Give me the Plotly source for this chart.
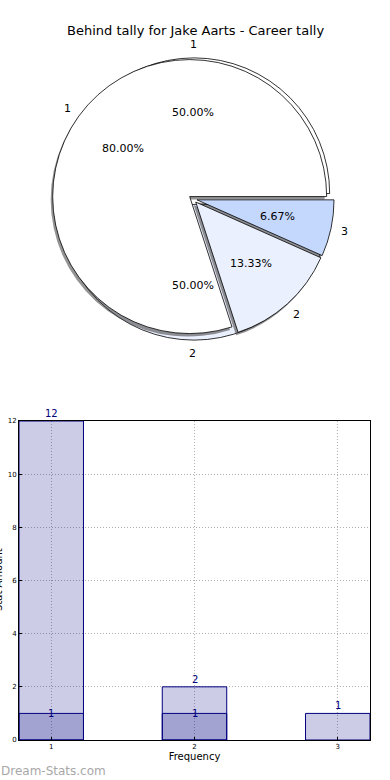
import math
import plotly.graph_objects as go

# ---------------- data ----------------
title_text = "Behind tally for Jake Aarts - Career tally"
career_labels = ["1", "2", "3"]
career_values = [12, 2, 1]
behind_labels = ["1", "2"]
behind_values = [1, 1]

freq_categories = [1, 2, 3]
career_counts = [12, 2, 1]
behind_counts = [1, 1, None]

x_title = "Frequency"
y_title = "Stat Amount"
y_ticks = [0, 2, 4, 6, 8, 10, 12]
watermark = "Dream-Stats.com"

# ---------------- layout constants ----------------
W, H = 390, 780
ML, MR, MT, MB = 19, 20, 0, 40
PW, PH = W - ML - MR, H - MT - MB


def px_x(x):
    return (x - ML) / PW


def px_y(y):
    return (H - MB - y) / PH


PIE_CX, PIE_CY, PIE_R = 193, 199, 137
PULL = 0.03
pie_colors = ["#ffffff", "#eaf0fd", "#c4d8fe"]


def pie_domain(dx=0, dy=0):
    half = PIE_R * (1 + PULL)
    return dict(
        x=[px_x(PIE_CX + dx - half), px_x(PIE_CX + dx + half)],
        y=[px_y(PIE_CY + dy + half), px_y(PIE_CY + dy - half)],
    )


def ccw_rotation(values):
    # plotly's counterclockwise pies place slice 1 clockwise from `rotation`;
    # shift so slice 1 starts at 3 o'clock and runs counterclockwise
    r = 90 - 360 * values[0] / sum(values)
    while r < -180:
        r += 360
    while r > 180:
        r -= 360
    return r


fig = go.Figure()

# back pie (behind tally)
fig.add_trace(go.Pie(
    labels=behind_labels, values=behind_values, sort=False,
    direction="counterclockwise", rotation=ccw_rotation(behind_values),
    pull=[PULL + 0.01] * len(behind_values),
    marker=dict(colors=pie_colors[:len(behind_values)], line=dict(color="black", width=0.8)),
    textinfo="none", hoverinfo="label+percent", showlegend=False,
    domain=pie_domain(1, 0), name="behind",
))
# shadow of front pie
fig.add_trace(go.Pie(
    labels=career_labels, values=career_values, sort=False,
    direction="counterclockwise", rotation=ccw_rotation(career_values),
    pull=[PULL] * len(career_values),
    marker=dict(colors=["rgba(60,60,60,0.55)"] * len(career_values), line=dict(width=0)),
    textinfo="none", hoverinfo="skip", showlegend=False,
    domain=pie_domain(-2, 3), name="shadow",
))
# front pie (career tally)
fig.add_trace(go.Pie(
    labels=career_labels, values=career_values, sort=False,
    direction="counterclockwise", rotation=ccw_rotation(career_values),
    pull=[PULL] * len(career_values),
    marker=dict(colors=pie_colors[:len(career_values)], line=dict(color="black", width=0.8)),
    textinfo="none", hoverinfo="label+percent", showlegend=False,
    domain=pie_domain(), name="career",
))

annotations = []


def pie_text(labels, values):
    total = sum(values)
    cum = 0
    for lab, v in zip(labels, values):
        mid = math.radians(360 * (cum + v / 2) / total)
        cum += v
        for dist, txt in ((1.1, lab), (0.6, f"{100 * v / total:.2f}%")):
            d = (dist + PULL) * PIE_R
            annotations.append(dict(
                x=px_x(PIE_CX + d * math.cos(mid)), y=px_y(PIE_CY - d * math.sin(mid)),
                xref="paper", yref="paper", text=txt, showarrow=False,
                xanchor="center", yanchor="middle",
                font=dict(family="DejaVu Sans", size=11, color="black"),
            ))


pie_text(behind_labels, behind_values)
pie_text(career_labels, career_values)

# ---------------- bars ----------------
BAR_FILL = "rgba(0,0,128,0.2)"
fig.add_trace(go.Bar(
    x=freq_categories, y=career_counts, width=0.45,
    marker=dict(color=BAR_FILL, line=dict(color="#000080", width=1)),
    showlegend=False, xaxis="x", yaxis="y", name="career",
))
fig.add_trace(go.Bar(
    x=freq_categories, y=behind_counts, width=0.45,
    marker=dict(color=BAR_FILL, line=dict(color="#000080", width=1)),
    showlegend=False, xaxis="x", yaxis="y", name="behind",
))

for xc, v in zip(freq_categories, career_counts):
    annotations.append(dict(x=xc, y=v, xref="x", yref="y", text=str(v), showarrow=False,
                            yanchor="bottom", yshift=0,
                            font=dict(family="DejaVu Sans", size=10, color="#000080")))
for xc, v in zip(freq_categories, behind_counts):
    if v:
        annotations.append(dict(x=xc, y=v, xref="x", yref="y", text=str(v), showarrow=False,
                                yanchor="middle",
                                font=dict(family="DejaVu Sans", size=10, color="#000080")))

annotations.append(dict(x=px_x(195), y=px_y(30), xref="paper", yref="paper", text=title_text,
                        showarrow=False, xanchor="center", yanchor="middle",
                        font=dict(family="DejaVu Sans", size=13, color="black")))
annotations.append(dict(x=px_x(-1), y=px_y(771), xref="paper", yref="paper", text=watermark,
                        showarrow=False, xanchor="left", yanchor="middle",
                        font=dict(family="DejaVu Sans", size=12, color="#a8a8a8")))
# y-axis title, sitting at the very left edge as in the original
annotations.append(dict(x=px_x(-2), y=px_y(580), xref="paper", yref="paper", text=y_title,
                        showarrow=False, xanchor="center", yanchor="middle", textangle=-90,
                        font=dict(family="DejaVu Sans", size=10, color="black")))

axis_common = dict(
    showline=True, linecolor="black", linewidth=1, mirror=True,
    ticks="inside", ticklen=3, tickcolor="black",
    showgrid=True, gridcolor="#b0b0b0", griddash="1px,2px", gridwidth=1,
    zeroline=False, layer="above traces",
    tickfont=dict(family="DejaVu Sans", size=7, color="black"),
)

fig.update_layout(
    width=W, height=H, margin=dict(l=ML, r=MR, t=MT, b=MB),
    paper_bgcolor="white", plot_bgcolor="white",
    barmode="overlay",
    xaxis=dict(domain=[0, 1], range=[0.775, 3.225], tickvals=freq_categories,
               title=dict(text=x_title, font=dict(family="DejaVu Sans", size=10, color="black"), standoff=2),
               anchor="y", **axis_common),
    yaxis=dict(domain=[0, px_y(421)], range=[0, 12], tickvals=y_ticks,
               anchor="x", automargin=False, **axis_common),
    annotations=annotations,
    font=dict(family="DejaVu Sans"),
)

fig.write_html(
    "out.html",
    config={"displayModeBar": False},
    post_script="document.body.style.margin='0';document.body.style.overflow='hidden';",
)
